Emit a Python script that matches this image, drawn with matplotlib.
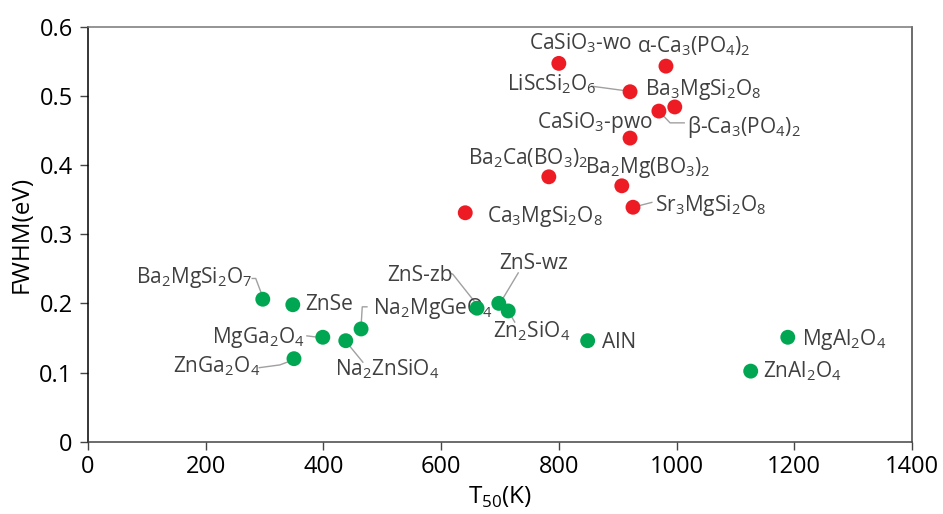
import matplotlib
matplotlib.use("Agg")
import matplotlib.pyplot as plt

plt.rcParams['font.family'] = ['Open Sans', 'DejaVu Sans']
plt.rcParams['mathtext.fontset'] = 'custom'
plt.rcParams['mathtext.rm'] = 'Open Sans'

def sub(s):
    # turn "Ca_3MgSi_2O_8" style into mathtext subscripts
    out = ''
    i = 0
    while i < len(s):
        if s[i] == '_':
            out += '$_\\mathregular{' + s[i + 1] + '}$'
            i += 2
        else:
            out += s[i]
            i += 1
    return out

# red group (silicates / phosphates / borates)
red_names = ['CaSiO_3-wo', 'α-Ca_3(PO_4)_2', 'LiScSi_2O_6', 'Ba_3MgSi_2O_8', 'β-Ca_3(PO_4)_2',
             'CaSiO_3-pwo', 'Ba_2Ca(BO_3)_2', 'Ba_2Mg(BO_3)_2', 'Sr_3MgSi_2O_8', 'Ca_3MgSi_2O_8']
red_t50 = [800, 982, 921, 997, 970, 921, 783, 907, 926, 641]
red_fwhm = [0.547, 0.543, 0.506, 0.484, 0.478, 0.439, 0.383, 0.370, 0.339, 0.331]

# green group
green_names = ['Ba_2MgSi_2O_7', 'ZnSe', 'Na_2MgGeO_4', 'MgGa_2O_4', 'Na_2ZnSiO_4', 'ZnGa_2O_4',
               'ZnS-zb', 'ZnS-wz', 'Zn_2SiO_4', 'AlN', 'MgAl_2O_4', 'ZnAl_2O_4']
green_t50 = [297, 348, 464, 399, 438, 350, 661, 698, 714, 849, 1189, 1126]
green_fwhm = [0.206, 0.198, 0.163, 0.151, 0.146, 0.120, 0.193, 0.200, 0.189, 0.146, 0.151, 0.102]

# label anchor (left, baseline) for each name
red_lbl = [(749, 0.567), (933, 0.563), (712, 0.508), (946, 0.502), (1018, 0.447),
           (763, 0.454), (645, 0.401), (844, 0.389), (963, 0.334), (678, 0.317)]
green_lbl = [(82, 0.230), (369, 0.190), (484, 0.184), (211, 0.143), (420, 0.096), (144, 0.100),
             (508, 0.233), (698, 0.249), (688, 0.151), (873, 0.136), (1213, 0.140), (1147, 0.093)]

# leader lines
leaders = [
    [(856, 0.514), (917, 0.507)],
    [(970, 0.478), (989, 0.461), (1013, 0.461)],
    [(926, 0.339), (958, 0.346)],
    [(279, 0.236), (285, 0.236), (297, 0.209)],
    [(474, 0.195), (466, 0.195), (464, 0.167)],
    [(372, 0.153), (391, 0.151)],
    [(440, 0.143), (467, 0.115)],
    [(291, 0.107), (326, 0.111), (348, 0.118)],
    [(615, 0.244), (620, 0.242), (661, 0.198)],
    [(731, 0.244), (700, 0.200)],
    [(714, 0.189), (725, 0.173)],
]

fig = plt.figure(figsize=(9.43, 5.14), dpi=100)
ax = fig.add_axes([0.0933, 0.1407, 0.8738, 0.8073])

for ln in leaders:
    xs = [p[0] for p in ln]
    ys = [p[1] for p in ln]
    ax.plot(xs, ys, color='#a0a0a0', lw=1.0, zorder=1)

ax.scatter(red_t50, red_fwhm, s=115, color='#ed1c24', edgecolors='none', zorder=3)
ax.scatter(green_t50, green_fwhm, s=115, color='#00a651', edgecolors='none', zorder=3)

for name, (lx, ly) in zip(red_names + green_names, red_lbl + green_lbl):
    ax.text(lx, ly, sub(name), fontsize=15, color='#404040', ha='left', va='baseline', zorder=2)

ax.set_xlim(0, 1400)
ax.set_ylim(0, 0.6)
ax.set_xticks(range(0, 1401, 200))
ax.set_yticks([0, 0.1, 0.2, 0.3, 0.4, 0.5, 0.6])
ax.set_yticklabels(['0', '0.1', '0.2', '0.3', '0.4', '0.5', '0.6'])
ax.tick_params(direction='out', length=6, width=1, colors='#444444', labelcolor='black', labelsize=17)
ax.tick_params(axis='y', pad=5)

for side in ['left', 'bottom', 'right', 'top']:
    ax.spines[side].set_linewidth(1.1)
ax.spines['left'].set_color('black')
ax.spines['bottom'].set_color('#444444')
ax.spines['right'].set_color('#444444')
ax.spines['top'].set_color('#777777')

ax.set_xlabel('T$_\\mathregular{50}$(K)', fontsize=17.5, labelpad=4)
ax.set_ylabel('FWHM(eV)', fontsize=17.5, labelpad=4)

fig.savefig('out.png', dpi=100)
